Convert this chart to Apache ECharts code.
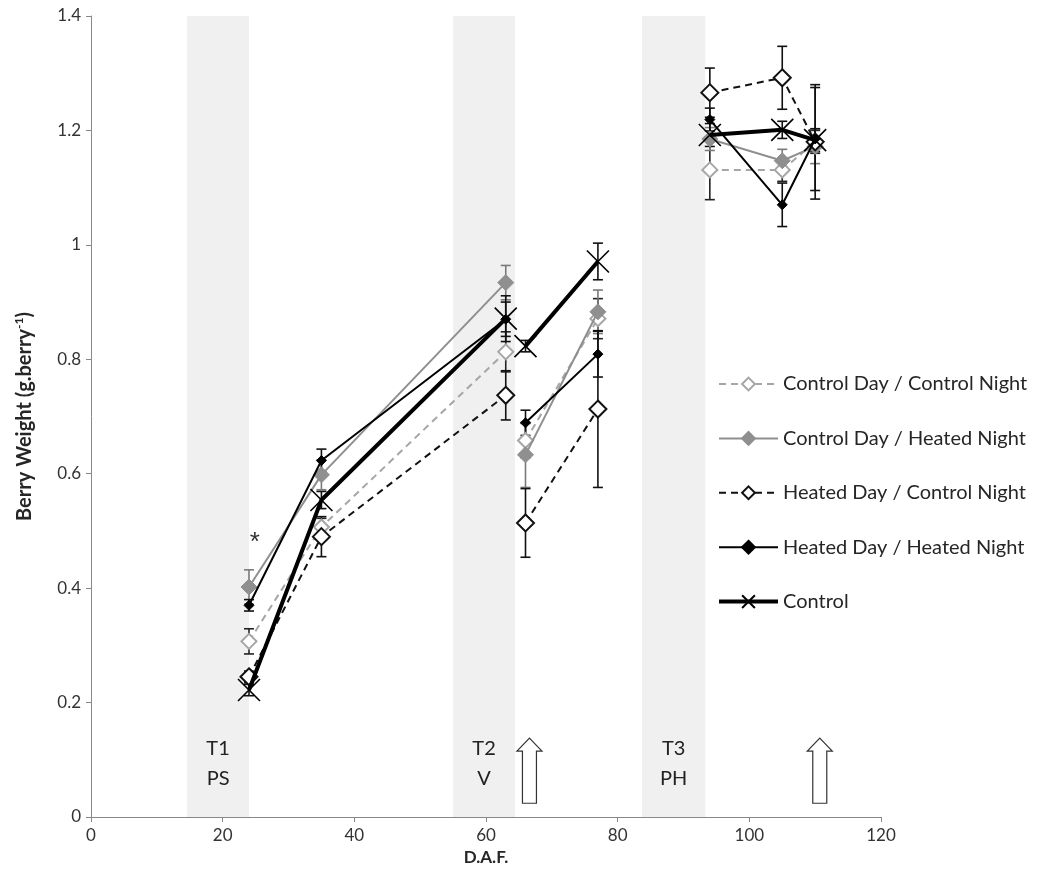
<!DOCTYPE html>
<html>
<head>
<meta charset="utf-8">
<title>Berry Weight</title>
<script src="https://cdn.jsdelivr.net/npm/echarts@6/dist/echarts.min.js"></script>
<style>
  html, body { margin: 0; padding: 0; background: #fff; }
  #chart { width: 1037px; height: 894px; }
</style>
</head>
<body>
<div id="chart"></div>
<script>
// Sampling dates (days after flowering)
const daf = [24, 35, 63, 66, 77, 94, 105, 110];
// Lines break after these sample indices (one run per treatment period)
const breakAfter = [2, 4];

const seriesNames = [
  'Control Day / Control Night',
  'Control Day / Heated Night',
  'Heated Day / Control Night',
  'Heated Day / Heated Night',
  'Control'
];

// Mean berry weight (g per berry)
const cdcn    = [0.307, 0.507, 0.813, 0.658, 0.871, 1.131, 1.131, 1.180];
const cdhn    = [0.402, 0.598, 0.934, 0.633, 0.883, 1.185, 1.147, 1.172];
const hdcn    = [0.245, 0.490, 0.737, 0.514, 0.713, 1.266, 1.292, 1.180];
const hdhn    = [0.370, 0.623, 0.870, 0.689, 0.809, 1.219, 1.070, 1.185];
const control = [0.222, 0.554, 0.871, 0.823, 0.971, 1.192, 1.201, 1.183];

// Standard errors
const cdcnErr    = [0.022, 0.015, 0.035, 0.030, 0.035, 0.052, 0.020, 0.020];
const cdhnErr    = [0.030, 0.026, 0.030, 0.057, 0.038, 0.020, 0.020, 0.030];
const hdcnErr    = [0.010, 0.035, 0.043, 0.060, 0.137, 0.043, 0.055, 0.100];
const hdhnErr    = [0.010, 0.020, 0.030, 0.022, 0.040, 0.020, 0.038, 0.090];
const controlErr = [0.010, 0.015, 0.040, 0.010, 0.032, 0.020, 0.015, 0.020];

// Treatment windows: [start, end, line 1, line 2]
const bands = [
  [14.6, 24.0, 'T1', 'PS'],
  [55.0, 64.4, 'T2', 'V'],
  [83.7, 93.3, 'T3', 'PH']
];
// Sampling arrows
const arrowX = [66.6, 110.7];
// Significance mark
const starPoint = [[24.9, 0.49]];

const yTicks = { min: 0, max: 1.4, interval: 0.2 };
const xTicks = { min: 0, max: 120, interval: 20 };

function lineData(values) {
  const out = [];
  values.forEach((v, i) => {
    out.push([daf[i], v]);
    if (breakAfter.indexOf(i) >= 0) out.push(['-', '-']);
  });
  return out;
}
function errData(values, errs) {
  return values.map((v, i) => [daf[i], v, errs[i]]);
}

const FONT = 'Lato';
const xMark = 'path://M0,0L10,10M10,0L0,10';

const styles = [
  { color: '#a6a6a6', type: [7, 5], width: 2, symbol: 'diamond', size: 15, fill: '#ffffff', border: '#a6a6a6', bw: 2 },
  { color: '#8f8f8f', type: 'solid', width: 2, symbol: 'diamond', size: 16, fill: '#8f8f8f', border: '#8f8f8f', bw: 1 },
  { color: '#111111', type: [7, 5], width: 2, symbol: 'diamond', size: 17, fill: '#ffffff', border: '#111111', bw: 2 },
  { color: '#000000', type: 'solid', width: 2, symbol: 'diamond', size: 10, fill: '#000000', border: '#000000', bw: 1 },
  { color: '#000000', type: 'solid', width: 4, symbol: xMark, size: 22, fill: 'none', border: '#000000', bw: 1.6 }
];
const values = [cdcn, cdhn, hdcn, hdhn, control];
const errs = [cdcnErr, cdhnErr, hdcnErr, hdhnErr, controlErr];
const errColors = ['#222222', '#7a7a7a', '#111111', '#111111', '#111111'];

const series = [];

// Shaded treatment windows with their labels
series.push({
  type: 'custom',
  silent: true,
  z: 0,
  data: bands,
  encode: { x: [0, 1] },
  renderItem: function (params, api) {
    const x0 = api.value(0), x1 = api.value(1);
    const tl = api.coord([x0, yTicks.max]);
    const br = api.coord([x1, yTicks.min]);
    const mid = api.coord([(x0 + x1) / 2, 0.094]);
    const b = bands[params.dataIndex];
    return {
      type: 'group',
      children: [
        { type: 'rect', shape: { x: tl[0], y: tl[1], width: br[0] - tl[0], height: br[1] - tl[1] },
          style: { fill: '#f0f0f0' } },
        { type: 'text', style: { x: mid[0], y: mid[1], text: b[2] + '\n' + b[3], fill: '#222',
          font: '20px ' + FONT, align: 'center', verticalAlign: 'middle', lineHeight: 30 } }
      ]
    };
  }
});

// Hollow sampling arrows
series.push({
  type: 'custom',
  silent: true,
  z: 1,
  data: arrowX.map(x => [x]),
  encode: { x: 0 },
  renderItem: function (params, api) {
    const x = api.value(0);
    const tip = api.coord([x, 0.138]);
    const base = api.coord([x, 0.024]);
    const cx = tip[0], ty = tip[1], by = base[1];
    const hw = 12.5, sw = 7, hh = 13;
    return {
      type: 'polygon',
      shape: { points: [[cx, ty], [cx + hw, ty + hh], [cx + sw, ty + hh], [cx + sw, by],
        [cx - sw, by], [cx - sw, ty + hh], [cx - hw, ty + hh]] },
      style: { fill: '#ffffff', stroke: '#333333', lineWidth: 1.2 }
    };
  }
});

// Error bars
values.forEach((vals, k) => {
  series.push({
    type: 'custom',
    silent: true,
    z: 2,
    data: errData(vals, errs[k]),
    encode: { x: 0, y: 1 },
    renderItem: function (params, api) {
      const x = api.value(0), y = api.value(1), e = api.value(2);
      const top = api.coord([x, y + e]);
      const bot = api.coord([x, y - e]);
      const cw = 5;
      const st = { stroke: errColors[k], lineWidth: 1.6 };
      return {
        type: 'group',
        children: [
          { type: 'line', shape: { x1: top[0], y1: top[1], x2: bot[0], y2: bot[1] }, style: st },
          { type: 'line', shape: { x1: top[0] - cw, y1: top[1], x2: top[0] + cw, y2: top[1] }, style: st },
          { type: 'line', shape: { x1: bot[0] - cw, y1: bot[1], x2: bot[0] + cw, y2: bot[1] }, style: st }
        ]
      };
    }
  });
});

// Treatment lines
values.forEach((vals, k) => {
  const s = styles[k];
  series.push({
    name: seriesNames[k],
    type: 'line',
    z: 3 + k,
    data: lineData(vals),
    connectNulls: false,
    symbol: s.symbol,
    symbolSize: s.size,
    showAllSymbol: true,
    lineStyle: { color: s.color, width: s.width, type: s.type },
    itemStyle: { color: s.fill, borderColor: s.border, borderWidth: s.bw },
    emphasis: { disabled: true }
  });
});

// Significance asterisk
series.push({
  type: 'custom',
  silent: true,
  z: 10,
  data: starPoint,
  encode: { x: 0, y: 1 },
  renderItem: function (params, api) {
    const p = api.coord([api.value(0), api.value(1)]);
    return { type: 'text', style: { x: p[0], y: p[1] + 6, text: '*', fill: '#333',
      font: '26px "Liberation Sans"', align: 'center', verticalAlign: 'middle' } };
  }
});

const chart = echarts.init(document.getElementById('chart'));
chart.setOption({
  animation: false,
  backgroundColor: '#ffffff',
  grid: { left: 91, right: 156, top: 16, bottom: 77, containLabel: false },
  legend: {
    data: seriesNames.map((n, k) => ({
      name: n,
      lineStyle: { width: styles[k].width, type: styles[k].type, color: styles[k].color }
    })),
    orient: 'vertical',
    left: 717,
    top: 374,
    padding: 0,
    itemWidth: 59,
    itemHeight: 16,
    itemGap: 34.4,
    selectedMode: false,
    textStyle: { fontFamily: FONT, fontSize: 20, color: '#262626', lineHeight: 16 }
  },
  xAxis: {
    type: 'value',
    min: xTicks.min, max: xTicks.max, interval: xTicks.interval,
    name: 'D.A.F.',
    nameLocation: 'middle',
    nameGap: 32,
    nameTextStyle: { fontFamily: FONT, fontSize: 17, fontWeight: 'bold', color: '#262626' },
    axisLine: { lineStyle: { color: '#888888', width: 1 } },
    axisTick: { show: true, inside: false, length: 5, lineStyle: { color: '#888888' } },
    axisLabel: { fontFamily: FONT, fontSize: 17, color: '#333333', margin: 10 },
    splitLine: { show: false }
  },
  yAxis: {
    type: 'value',
    min: yTicks.min, max: yTicks.max, interval: yTicks.interval,
    name: '{t|Berry Weight (g.berry}{s|-1}{t|)}',
    nameLocation: 'middle',
    nameGap: 56,
    nameTextStyle: {
      rich: {
        t: { fontFamily: FONT, fontSize: 20, fontWeight: 'bold', color: '#262626', lineHeight: 22, verticalAlign: 'bottom' },
        s: { fontFamily: FONT, fontSize: 12, fontWeight: 'bold', color: '#262626', lineHeight: 22, verticalAlign: 'top' }
      }
    },
    axisLine: { show: true, lineStyle: { color: '#888888', width: 1 } },
    axisTick: { show: true, inside: false, length: 5, lineStyle: { color: '#888888' } },
    axisLabel: { fontFamily: FONT, fontSize: 17, color: '#333333', margin: 10 },
    splitLine: { show: false }
  },
  series: series
});
</script>
</body>
</html>
